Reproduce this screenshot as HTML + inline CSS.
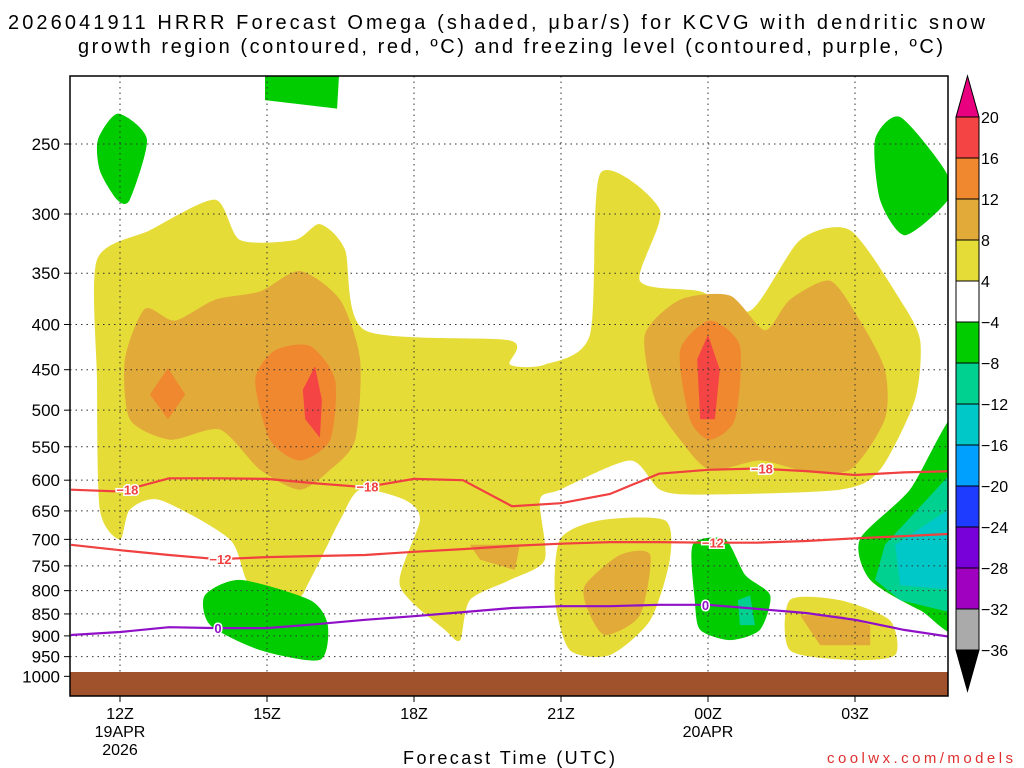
<!DOCTYPE html>
<html><head><meta charset="utf-8"><style>
body{margin:0;background:#fff;}
svg{display:block;font-family:"Liberation Sans",sans-serif;}
</style></head><body>
<svg id="chart" width="1024" height="768" viewBox="0 0 1024 768">
<defs><clipPath id="pc"><rect x="70" y="76" width="878" height="620"/></clipPath></defs>
<text x="8" y="29" font-size="20" textLength="977" lengthAdjust="spacing">2026041911 HRRR Forecast Omega (shaded, μbar/s) for KCVG with dendritic snow</text>
<text x="78" y="53" font-size="20" textLength="865" lengthAdjust="spacing">growth region (contoured, red, ºC) and freezing level (contoured, purple, ºC)</text>
<g id="shade" clip-path="url(#pc)"></g>
<g id="grid"></g>
<g id="lines" clip-path="url(#pc)"></g>
<rect x="70" y="672" width="878" height="24" fill="#a0522d"/>
<rect x="70" y="76" width="878" height="620" fill="none" stroke="#000" stroke-width="1.5"/>
<g id="axes"></g>
<g id="cbar"></g>
<text x="509" y="764" font-size="18" text-anchor="middle" textLength="212">Forecast Time (UTC)</text>
<text x="1013" y="763" font-size="15" fill="#e03030" text-anchor="end" textLength="186">coolwx.com/models</text>
</svg>
<script>
const NS="http://www.w3.org/2000/svg";
const pTicks=[250,300,350,400,450,500,550,600,650,700,750,800,850,900,950,1000];
const tHours=[0,3,6,9,12,15];
const tLabels=["12Z","15Z","18Z","21Z","00Z","03Z"];
const cbLevels=["20","16","12","8","4","−4","−8","−12","−16","−20","−24","−28","−32","−36"];
const cbColors=["#f44444","#f08830","#e2aa38","#e6dc38","#ffffff","#00cc00","#00d090","#00c8c8","#00a0ff","#1e3cff","#7800d8","#a000c0","#aaaaaa"];
const lineHours=[-1,0,1,2,3,4,5,6,7,8,9,10,11,12,13,14,15,16,17];
const line18=[615,618,597,597,598,605,611,598,600,642,637,622,590,584,582,586,592,588,586];
const line12=[710,720,729,737,733,731,729,723,718,712,708,705,705,706,706,703,698,694,690];
const line0=[898,891,880,882,882,873,863,855,846,837,833,833,830,830,839,848,863,886,903];
const yellowPolys=[
[[-0.47,338],[0.61,313],[1.94,289],[2.45,321],[3.57,321],[4.08,308],[4.59,329],[5.0,406],[7.96,417],[7.96,444],[8.67,444],[9.59,411],[9.8,270],[11.02,297],[10.61,357],[11.84,367],[12.86,386],[13.88,321],[14.9,313],[15.92,375],[16.33,417],[16.22,487],[15.51,584],[14.69,615],[11.84,623],[11.02,615],[10.41,570],[8.98,615],[8.57,632],[8.67,738],[7.96,778],[7.14,820],[6.94,910],[6.63,886],[5.71,789],[6.12,666],[5.82,632],[4.9,615],[4.49,666],[3.88,778],[3.57,820],[2.65,789],[2.24,700],[0.82,632],[0.2,648],[0,700],[-0.41,648],[-0.47,462]],
[[8.98,700],[9.8,666],[11.12,666],[11.22,738],[10.82,864],[10.0,946],[9.18,934],[8.88,820]],
[[13.67,820],[14.69,820],[15.71,864],[15.82,946],[14.9,958],[13.67,934]]];
const orangePolys=[
[[0.1,438],[0.51,384],[1.12,396],[1.94,375],[2.86,367],[3.67,348],[4.49,375],[4.9,438],[4.8,540],[4.29,584],[3.67,615],[2.86,584],[2.04,526],[1.02,540],[0.2,512]],
[[10.71,411],[11.43,375],[12.45,371],[13.16,406],[13.67,375],[14.49,357],[15.1,396],[15.61,450],[15.61,512],[14.9,584],[13.88,584],[13.06,570],[12.04,584],[11.43,540],[10.92,487]],
[[9.49,789],[10.2,729],[10.82,729],[10.61,853],[9.9,898],[9.55,842]],
[[7.14,710],[8.16,710],[8.06,758],[7.35,738]],
[[13.88,853],[14.69,853],[15.31,875],[15.31,922],[14.29,922]]];
const darkOrangePolys=[
[[0.61,480],[0.98,448],[1.33,480],[0.98,512]],
[[2.76,462],[3.16,428],[3.88,423],[4.39,462],[4.29,540],[3.67,570],[3.06,540]],
[[11.43,428],[12.04,396],[12.65,423],[12.55,512],[12.04,540],[11.63,512]]];
const redPolys=[
[[3.73,474],[3.98,446],[4.12,487],[4.08,537],[3.78,512]],
[[11.78,438],[12.0,411],[12.24,450],[12.14,512],[11.84,512]]];
const greenPolys=[
[[-0.45,247],[-0.04,231],[0.55,247],[0.2,289],[-0.06,289],[-0.41,268]],
[[2.96,200],[4.49,200],[4.43,228],[2.96,223]],
[[15.41,247],[15.92,233],[16.84,268],[16.9,289],[16.02,317],[15.51,289]],
[[1.73,810],[2.45,778],[3.88,820],[4.24,875],[4.08,958],[2.86,934],[1.84,875]],
[[11.69,710],[12.35,700],[12.76,768],[13.27,810],[13.06,886],[12.45,910],[11.84,886],[11.73,820]],
[[15.1,700],[16.12,615],[17.2,500],[17.2,875],[16.33,842],[15.31,778]]];
const tealPolys=[
[[15.61,710],[17.2,570],[17.2,853],[15.92,820],[15.41,778]],
[[12.61,820],[12.86,810],[12.96,875],[12.65,875]]];
const cyanPolys=[[[15.82,710],[17.2,632],[17.2,800],[15.92,789]]];

const X=h=>120+49*h;
const Y=p=>144+384*Math.log(p/250);
function mk(tag,attrs,parent){const e=document.createElementNS(NS,tag);for(const k in attrs)e.setAttribute(k,attrs[k]);parent.appendChild(e);return e;}
function smoothPath(pts){
  const n=pts.length;
  if(n<=5) return 'M'+pts.map(p=>p[0].toFixed(1)+','+p[1].toFixed(1)).join('L')+'Z';
  let d='M'+pts[0][0].toFixed(1)+','+pts[0][1].toFixed(1);
  const k=1/8;
  for(let i=0;i<n;i++){
    const p0=pts[(i-1+n)%n],p1=pts[i],p2=pts[(i+1)%n],p3=pts[(i+2)%n];
    const c1=[p1[0]+(p2[0]-p0[0])*k,p1[1]+(p2[1]-p0[1])*k];
    const c2=[p2[0]-(p3[0]-p1[0])*k,p2[1]-(p3[1]-p1[1])*k];
    d+='C'+c1[0].toFixed(1)+','+c1[1].toFixed(1)+' '+c2[0].toFixed(1)+','+c2[1].toFixed(1)+' '+p2[0].toFixed(1)+','+p2[1].toFixed(1);
  }
  return d+'Z';
}
const shade=document.getElementById('shade');
function drawPolys(list,color,name){
  list.forEach(poly=>{
    const pts=poly.map(d=>[X(d[0]),Y(d[1])]);
    const e=mk('path',{d:smoothPath(pts),fill:color},shade);
    
    
  });
}
drawPolys(yellowPolys,"#e6dc38","omega-4-8");
drawPolys(orangePolys,"#e2aa38","omega-8-12");
drawPolys(darkOrangePolys,"#f08830","omega-12-16");
drawPolys(redPolys,"#f44444","omega-16-20");
drawPolys(greenPolys,"#00cc00","omega-neg4-neg8");
drawPolys(tealPolys,"#00d090","omega-neg8-neg12");
drawPolys(cyanPolys,"#00c8c8","omega-neg12-neg16");

const grid=document.getElementById('grid'),axes=document.getElementById('axes');
pTicks.forEach(p=>{
  const y=Y(p);
  const g=mk('line',{x1:70,x2:948,y1:y,y2:y,stroke:'#333','stroke-dasharray':'1.5 4','stroke-width':1},grid);
  
  
  mk('line',{x1:64,x2:70,y1:y,y2:y,stroke:'#000'},axes);
  const t=mk('text',{x:60,y:y+6,'font-size':17,'text-anchor':'end'},axes);
  t.textContent=p;
  
  
});
tHours.forEach((h,i)=>{
  const x=X(h);
  const g=mk('line',{x1:x,x2:x,y1:76,y2:696,stroke:'#333','stroke-dasharray':'1.5 4','stroke-width':1},grid);
  
  
  mk('line',{x1:x,x2:x,y1:696,y2:702,stroke:'#000'},axes);
  const t=mk('text',{x:x,y:719,'font-size':16,'text-anchor':'middle'},axes);
  t.textContent=tLabels[i];
  
  
});
[["19APR",0,737],["2026",0,755],["20APR",12,737]].forEach(d=>{
  const t=mk('text',{x:X(d[1]),y:d[2],'font-size':16,'text-anchor':'middle'},axes);
  t.textContent=d[0];
  
  
});

const lines=document.getElementById('lines');
function drawLine(vals,color,name,label,labelHours){
  const e=mk('polyline',{points:vals.map((p,i)=>X(lineHours[i]).toFixed(1)+','+Y(p).toFixed(1)).join(' '),fill:'none',stroke:color,'stroke-width':2.2},lines);
  
  
  labelHours.forEach(h=>{
    const i=Math.floor(h)+1,f=h-Math.floor(h);
    const p=vals[i]+(vals[Math.min(i+1,vals.length-1)]-vals[i])*f;
    const x=X(h),y=Y(p);
    const t=mk('text',{x:x,y:y+5,'font-size':13,'font-weight':'bold','text-anchor':'middle',fill:color,stroke:'#fff','stroke-width':3,'paint-order':'stroke'},lines);
    t.textContent=label;
    
    
  });
}
drawLine(line18,"#f04040","contour-minus-18","−18",[0.15,5.05,13.1]);
drawLine(line12,"#f04040","contour-minus-12","−12",[2.05,12.1]);
drawLine(line0,"#9010c8","freezing-level-0","0",[2.0,11.95]);

const cb=document.getElementById('cbar');
const cbX=956,cbW=23,cbTop=117,cbStep=41;
mk('polygon',{points:`${cbX},${cbTop} ${cbX+cbW},${cbTop} ${cbX+cbW/2},76`,fill:'#e8007f',stroke:'#000'},cb);
cbColors.forEach((c,i)=>{
  const r=mk('rect',{x:cbX,y:cbTop+i*cbStep,width:cbW,height:cbStep,fill:c,stroke:'#000','stroke-width':1},cb);
  
  
});
const cbBot=cbTop+cbColors.length*cbStep;
mk('polygon',{points:`${cbX},${cbBot} ${cbX+cbW},${cbBot} ${cbX+cbW/2},691`,fill:'#000',stroke:'#000'},cb);
cbLevels.forEach((l,i)=>{
  const t=mk('text',{x:981,y:cbTop+i*cbStep+6,'font-size':16},cb);
  t.textContent=l;
  
  
});
</script>
</body></html>
